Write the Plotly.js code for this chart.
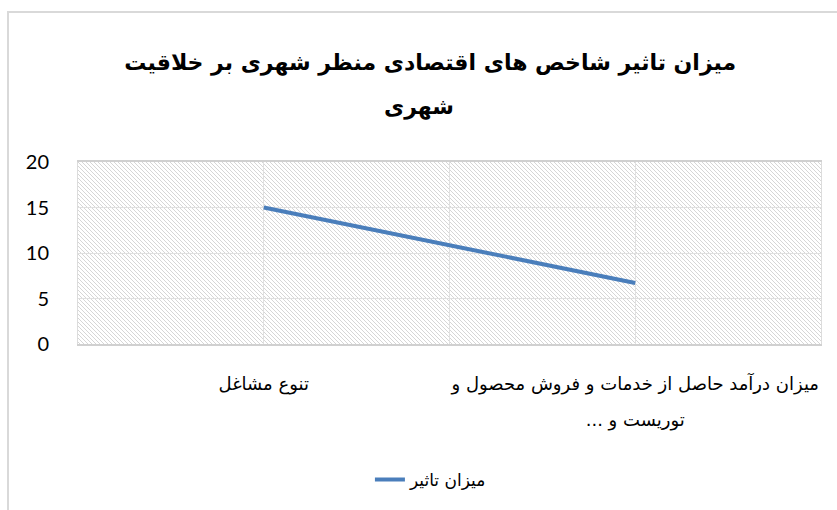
<!DOCTYPE html>
<html>
<head>
<meta charset="utf-8">
<script src="https://cdn.plot.ly/plotly-3.0.1.min.js"></script>
<style>
  html, body { margin: 0; padding: 0; background: #ffffff; overflow: hidden; }
  #frame { position: absolute; left: 7px; top: 11px; width: 900px; height: 600px;
           border-left: 2px solid #d9d9d9; border-top: 2px solid #d9d9d9; }
  #chart { position: absolute; left: 0; top: 0; width: 837px; height: 510px; }
</style>
</head>
<body>
<div id="frame"></div>
<div id="chart"></div>
<script>
// ---- data ----
const categories = ["تنوع مشاغل", "میزان درآمد حاصل از خدمات و فروش محصول و<br>توریست و ...\u200F"];
const seriesName = "میزان تاثیر";
const seriesValues = [15, 6.7];
const yTicks = [0, 5, 10, 15, 20];
const titleLine1 = "میزان تاثیر شاخص های اقتصادی منظر شهری بر خلاقیت";
const titleLine2 = "شهری";

// ---- build ----
const xIdx = categories.map((c, i) => i);
const gridVals = [-0.5, 0, 0.5, 1, 1.5];
const wrapLines = s => s.split('<br>').map(l => '<span style="font-size:18px">' + l + '</span>').join('<br>');
const gridText = gridVals.map(v => Number.isInteger(v) ? wrapLines(categories[v]) : "");

const hatchSvg =
  '<svg xmlns="http://www.w3.org/2000/svg" width="743" height="182">' +
  '<defs><pattern id="h" patternUnits="userSpaceOnUse" width="4" height="4">' +
  '<path d="M-1,-1 L5,5 M3,-1 L5,1 M-1,3 L1,5" stroke="#d6d6d6" stroke-width="1"/>' +
  '</pattern></defs><rect width="743" height="182" fill="url(#h)"/></svg>';
const hatchUri = 'data:image/svg+xml;base64,' + btoa(hatchSvg);

const trace = {
  x: xIdx,
  y: seriesValues,
  type: 'scatter',
  mode: 'lines',
  name: seriesName,
  line: { color: '#4a7ebb', width: 4 },
  hoverinfo: 'skip'
};

const titleFont = { family: 'DejaVu Sans, sans-serif', size: 22, color: '#000000', weight: 'bold' };

const layout = {
  width: 837, height: 510,
  margin: { l: 78, r: 16, t: 162, b: 166 },
  paper_bgcolor: 'rgba(0,0,0,0)',
  plot_bgcolor: 'rgba(0,0,0,0)',
  title: {
    text: titleLine1,
    x: 0.514, xref: 'container', xanchor: 'center',
    y: 0.878, yref: 'container', yanchor: 'middle',
    font: titleFont
  },
  annotations: [{
    text: titleLine2, showarrow: false,
    xref: 'paper', yref: 'paper', x: 0.459, y: 1.302,
    xanchor: 'center', yanchor: 'middle',
    font: titleFont
  }],
  showlegend: true,
  legend: {
    orientation: 'h', x: 0.475, xanchor: 'center', y: -0.747, yanchor: 'middle',
    font: { family: 'DejaVu Sans, sans-serif', size: 17, color: '#000000' }
  },
  xaxis: {
    range: [-0.5, 1.5],
    tickmode: 'array', tickvals: gridVals, ticktext: gridText,
    showgrid: true, gridcolor: '#e0e0e0', gridwidth: 1,
    showline: true, linecolor: '#d0d0d0', linewidth: 2, mirror: true,
    ticks: '', zeroline: false, fixedrange: true,
    tickangle: 0,
    ticklabelstandoff: 10,
    tickfont: { family: 'DejaVu Sans, sans-serif', size: 28, color: '#000000' }
  },
  yaxis: {
    range: [0, 20],
    tickmode: 'array', tickvals: yTicks,
    showgrid: true, gridcolor: '#e0e0e0', gridwidth: 1,
    showline: true, linecolor: '#dcdcdc', linewidth: 1, mirror: true,
    ticks: '', zeroline: false, fixedrange: true,
    ticklabelstandoff: 24,
    tickfont: { family: 'Lato, sans-serif', size: 20, color: '#000000' }
  },
  images: [{
    source: hatchUri, xref: 'paper', yref: 'paper',
    x: 0, y: 1, sizex: 1, sizey: 1, sizing: 'stretch',
    xanchor: 'left', yanchor: 'top', layer: 'below'
  }]
};

Plotly.newPlot('chart', [trace], layout, { displayModeBar: false, staticPlot: true });
</script>
</body>
</html>
